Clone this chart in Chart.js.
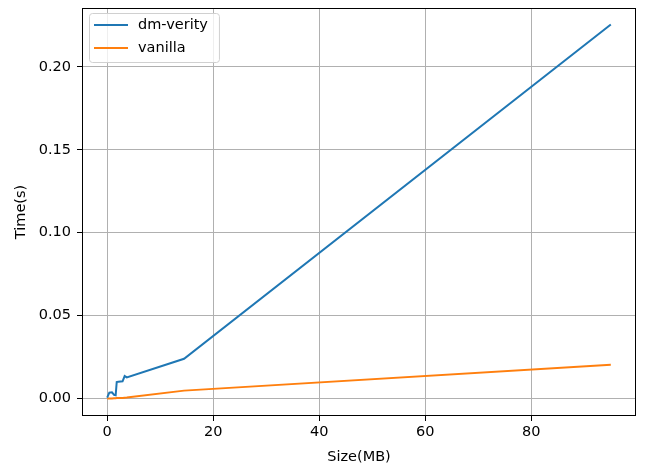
<!DOCTYPE html>
<html>
<head>
<meta charset="utf-8">
<script src="https://cdn.jsdelivr.net/npm/chart.js@4/dist/chart.umd.min.js"></script>
<style>
  html, body { margin: 0; padding: 0; background: #fff; }
  #wrap { width: 646px; height: 470px; }
</style>
</head>
<body>
<div id="wrap"><canvas id="time-chart"></canvas></div>
<script>
// file sizes in MB
const sizes = [0, 0.4, 0.9, 1.3, 1.6, 1.8, 2.1, 2.9, 3.3, 3.7, 14.5, 95];
const verityTimes = [0.0006, 0.0036, 0.0038, 0.0022, 0.0020, 0.0100, 0.0102, 0.0104, 0.0136, 0.0128, 0.0240, 0.2255];
const vanillaTimes = [0.0000, 0.0001, 0.0001, 0.0002, 0.0002, 0.0003, 0.0003, 0.0004, 0.0005, 0.0006, 0.0048, 0.0204];
const xTicks = [0, 20, 40, 60, 80];
const yTicks = [0, 0.05, 0.10, 0.15, 0.20];

const FONT = "'DejaVu Sans', sans-serif";
const FSIZE = 14.5;

function toPoints(xs, ys) {
  return xs.map((x, i) => ({ x: x, y: ys[i] }));
}

// frame + legend box drawn inside the plot area, matplotlib style
const framePlugin = {
  id: "frame",
  afterDraw(chart) {
    const c = chart.ctx;
    const a = chart.chartArea;
    c.save();
    c.strokeStyle = "#000";
    c.lineWidth = 1;
    c.strokeRect(a.left + 0.5, a.top + 0.5, a.right - a.left - 1, a.bottom - a.top - 1);

    // legend
    c.font = FSIZE + "px " + FONT;
    const textW = Math.max(...chart.data.datasets.map((ds) => c.measureText(ds.label).width));
    const x0 = a.left + 7, y0 = a.top + 5, w = 49 + textW + 11, h = 49;
    c.fillStyle = "rgba(255,255,255,0.8)";
    c.strokeStyle = "#d0d0d0";
    c.beginPath();
    c.roundRect(x0 + 0.5, y0 + 0.5, w, h, 3);
    c.fill();
    c.stroke();
    c.textBaseline = "middle";
    chart.data.datasets.forEach((ds, i) => {
      const ly = y0 + 12 + i * 23;
      c.strokeStyle = ds.borderColor;
      c.lineWidth = 2;
      c.beginPath();
      c.moveTo(x0 + 5, ly);
      c.lineTo(x0 + 39, ly);
      c.stroke();
      c.fillStyle = "#000";
      c.fillText(ds.label, x0 + 49, ly);
    });
    c.restore();
  },
};

var ctx = document.getElementById("time-chart").getContext("2d");
var timeChart = new Chart(ctx, {
  type: "line",
  data: {
    datasets: [
      {
        label: "dm-verity",
        data: toPoints(sizes, verityTimes),
        borderColor: "#1f77b4",
        borderWidth: 2,
        pointRadius: 0,
        tension: 0,
        fill: false,
      },
      {
        label: "vanilla",
        data: toPoints(sizes, vanillaTimes),
        borderColor: "#ff7f0e",
        borderWidth: 2,
        pointRadius: 0,
        tension: 0,
        fill: false,
      },
    ],
  },
  options: {
    responsive: true,
    maintainAspectRatio: false,
    animation: false,
    layout: { padding: { top: 8, right: 10, left: 0, bottom: 0 } },
    plugins: { legend: { display: false }, tooltip: { enabled: false } },
    scales: {
      x: {
        type: "linear",
        min: -4.75,
        max: 99.75,
        afterBuildTicks: (s) => { s.ticks = xTicks.map((v) => ({ value: v })); },
        afterFit: (s) => { s.height = 54; s.paddingLeft = 0; s.paddingRight = 0; },
        grid: { color: "#b0b0b0", tickColor: "#000", tickLength: 5, lineWidth: 1 },
        border: { display: false },
        ticks: { color: "#000", font: { family: FONT, size: FSIZE }, padding: 3, maxRotation: 0 },
        title: { display: true, text: "Size(MB)", color: "#000", font: { family: FONT, size: FSIZE }, padding: { top: 2, bottom: 4 } },
      },
      y: {
        type: "linear",
        min: -0.0105,
        max: 0.2355,
        afterBuildTicks: (s) => { s.ticks = yTicks.map((v) => ({ value: v })); },
        afterFit: (s) => { s.width = 82; s.paddingTop = 0; s.paddingBottom = 0; },
        grid: { color: "#b0b0b0", tickColor: "#000", tickLength: 5, lineWidth: 1 },
        border: { display: false },
        ticks: {
          color: "#000",
          font: { family: FONT, size: FSIZE },
          padding: 6,
          callback: (v) => v.toFixed(2),
        },
        title: { display: true, text: "Time(s)", color: "#000", font: { family: FONT, size: FSIZE }, padding: { top: 13, bottom: 0 } },
      },
    },
  },
  plugins: [framePlugin],
});
</script>
</body>
</html>
